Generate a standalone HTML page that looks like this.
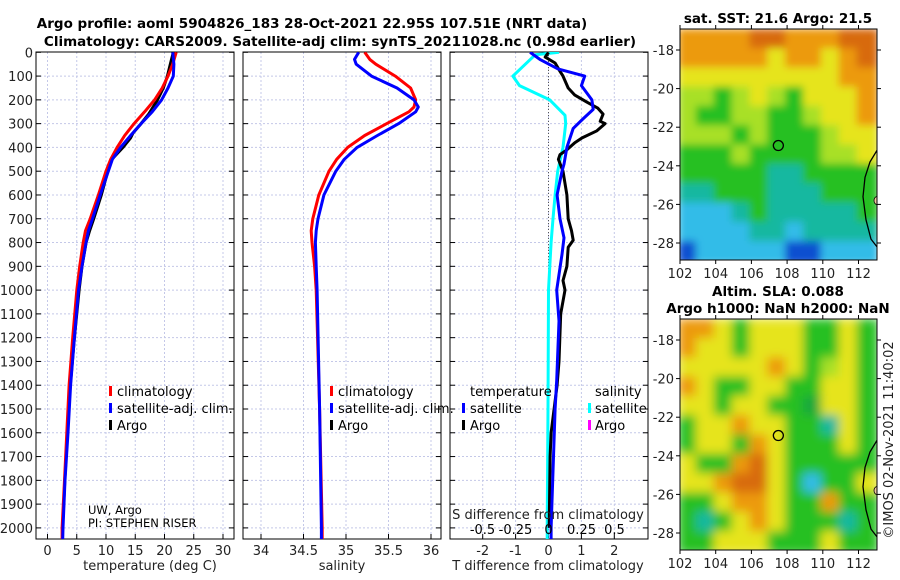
<!DOCTYPE html>
<html><head><meta charset="utf-8">
<style>
html,body{margin:0;padding:0;background:#fff;}
svg{display:block;font-family:"DejaVu Sans","Liberation Sans",sans-serif;}
.t{font-weight:bold;font-size:13.5px;fill:#000;}
.lab{font-size:13px;fill:#222;}
.lg{font-size:13px;fill:#000;}
</style></head>
<body>
<svg id="fig" width="900" height="580" viewBox="0 0 900 580">
<defs>
<clipPath id="cp1"><rect x="36" y="52" width="198" height="487"/></clipPath>
<clipPath id="cp2"><rect x="243" y="52" width="198" height="487"/></clipPath>
<clipPath id="cp3"><rect x="450" y="52" width="198" height="487"/></clipPath>
<clipPath id="cm1"><rect x="680" y="29" width="197" height="231"/></clipPath>
<clipPath id="cm2"><rect x="680" y="319" width="197" height="231"/></clipPath>
<filter id="bl1" x="-5%" y="-5%" width="110%" height="110%"><feGaussianBlur stdDeviation="4"/></filter>
<filter id="bl2" x="-5%" y="-5%" width="110%" height="110%"><feGaussianBlur stdDeviation="5"/></filter>
</defs>
<text class="t" x="312" y="28" text-anchor="middle">Argo profile: aoml 5904826_183 28-Oct-2021 22.95S 107.51E (NRT data)</text>
<text class="t" x="340" y="46" text-anchor="middle">Climatology: CARS2009. Satellite-adj clim: synTS_20211028.nc (0.98d earlier)</text>
<text class="t" x="778" y="23" text-anchor="middle">sat. SST: 21.6 Argo: 21.5</text>
<text class="t" x="778" y="296" text-anchor="middle">Altim. SLA: 0.088</text>
<text class="t" x="778" y="313" text-anchor="middle">Argo h1000: NaN h2000: NaN</text>
<text class="lab" transform="translate(893,440) rotate(-90)" text-anchor="middle">©IMOS 02-Nov-2021 11:40:02</text>
<g id="plots"></g>
<g id="maps"></g>
<g>
<rect x="109" y="386" width="3" height="10" fill="#f00"/><text class="lg" x="117" y="396">climatology</text>
<rect x="109" y="403" width="3" height="10" fill="#00f"/><text class="lg" x="117" y="413">satellite-adj. clim.</text>
<rect x="109" y="420" width="3" height="10" fill="#000"/><text class="lg" x="117" y="430">Argo</text>
</g>
<g>
<rect x="330" y="386" width="3" height="10" fill="#f00"/><text class="lg" x="338" y="396">climatology</text>
<rect x="330" y="403" width="3" height="10" fill="#00f"/><text class="lg" x="338" y="413">satellite-adj. clim.</text>
<rect x="330" y="420" width="3" height="10" fill="#000"/><text class="lg" x="338" y="430">Argo</text>
</g>
<g>
<text class="lg" x="470" y="396">temperature</text>
<rect x="462" y="403" width="3" height="10" fill="#00f"/><text class="lg" x="470" y="413">satellite</text>
<rect x="462" y="420" width="3" height="10" fill="#000"/><text class="lg" x="470" y="430">Argo</text>
<text class="lg" x="595" y="396">salinity</text>
<rect x="588" y="403" width="3" height="10" fill="#0ff"/><text class="lg" x="595" y="413">satellite</text>
<rect x="588" y="420" width="3" height="10" fill="#f0f"/><text class="lg" x="595" y="430">Argo</text>
</g>
<text x="88" y="514" font-size="11.5">UW, Argo</text>
<text x="88" y="527" font-size="11.5">PI: STEPHEN RISER</text>
<text class="lab" x="548" y="519" text-anchor="middle">S difference from climatology</text>
<text class="lab" x="150" y="570" text-anchor="middle">temperature (deg C)</text>
<text class="lab" x="342" y="570" text-anchor="middle">salinity</text>
<text class="lab" x="548" y="570" text-anchor="middle">T difference from climatology</text>
</svg>
<script>
const depthTicks=[0,100,200,300,400,500,600,700,800,900,1000,1100,1200,1300,1400,1500,1600,1700,1800,1900,2000];
const tempTicks=[0,5,10,15,20,25,30];
const salTicks=[34,34.5,35,35.5,36];
const tdiffTicks=[-2,-1,0,1,2];
const sdiffTicks=[-0.5,-0.25,0,0.25,0.5];
const sdiffTickLabels=["-0.5","-0.25","0","0.25","0.5"];

const depthTC=[0,50,100,150,200,250,300,350,400,450,500,600,700,750,800,900,1000,1200,1400,1600,1800,2000,2050];
const tClim=[22.0,21.4,20.6,19.6,18.3,16.6,14.8,13.2,11.9,10.8,10.0,8.7,7.3,6.5,6.1,5.5,5.0,4.3,3.7,3.3,2.9,2.5,2.5];
const tSat=[21.4,21.6,21.5,20.6,19.5,17.9,16.0,14.2,12.5,11.1,10.4,9.0,7.7,7.0,6.6,5.9,5.3,4.6,3.95,3.5,3.0,2.65,2.6];
const depthTA=[0,50,100,150,200,260,300,340,360,400,450,500,600,700,750,800,900,1000,1200,1400,1600,1800,1990];
const tArgo=[21.5,21.0,20.5,19.8,18.8,17.3,16.0,14.6,14.2,12.9,11.0,10.3,9.2,7.9,7.2,6.6,5.9,5.4,4.6,3.9,3.4,2.95,2.6];

const depthS=[0,30,50,100,150,200,230,250,300,350,400,450,500,600,700,750,800,900,1000,1500,2000,2050];
const sClim=[35.22,35.28,35.35,35.58,35.76,35.82,35.80,35.74,35.48,35.22,35.02,34.89,34.80,34.68,34.61,34.59,34.60,34.63,34.65,34.69,34.72,34.72];
const sSat=[35.15,35.1,35.12,35.3,35.6,35.8,35.85,35.82,35.62,35.37,35.13,34.98,34.88,34.74,34.67,34.65,34.64,34.65,34.66,34.69,34.71,34.71];

const depthDS=[0,10,100,140,200,265,300,400,500,600,700,800,1000,1500,2000,2050];
const sDiffSat=[0.08,-0.1,-0.27,-0.22,0.01,0.125,0.13,0.11,0.07,0.05,0.034,0.02,0.0,-0.004,-0.01,-0.01];
const depthDT=[0,30,70,100,140,200,240,280,320,400,470,500,600,700,780,850,1000,1130,1380,1500,2000,2050];
const tDiffSat=[-0.56,-0.26,0.29,1.1,1.0,1.32,1.36,1.05,0.75,0.56,0.47,0.41,0.26,0.35,0.47,0.41,0.25,0.32,0.25,0.2,0.08,0.08];
const depthDA=[0,20,45,80,100,150,180,210,235,260,290,300,330,360,380,410,430,450,500,600,700,750,790,820,900,960,1000,1100,1300,1400,1500,1600,1700,2000];
const tDiffArgo=[0,-0.1,0.2,0.35,0.44,0.6,0.8,1.17,1.5,1.66,1.57,1.72,1.47,1.02,0.8,0.56,0.35,0.3,0.44,0.56,0.6,0.7,0.75,0.6,0.56,0.44,0.5,0.37,0.32,0.26,0.17,0.08,0.05,0.02];

const NS="http://www.w3.org/2000/svg";
const yD=d=>52.3+d*0.2378;
const xT=t=>47.5+t*5.85;
const xS=s=>261+(s-34)*85;
const xTD=v=>548.5+v*32.9;
const xSD=v=>548.5+v*132;
const plots=document.getElementById('plots');
function mk(tag,attrs,parent){const e=document.createElementNS(NS,tag);for(const k in attrs)e.setAttribute(k,attrs[k]);(parent||plots).appendChild(e);return e;}

function panel(x0,w,clip,xTicks,xf,xLabels,name,showY){
  const g=mk('g',{});
  
  
  depthTicks.forEach(d=>{ if(d>0) mk('line',{x1:x0,x2:x0+w,y1:yD(d),y2:yD(d),stroke:'#c4c8e8','stroke-width':1,'stroke-dasharray':'2,2'},g);});
  xTicks.forEach(t=>{mk('line',{x1:xf(t),x2:xf(t),y1:52,y2:539,stroke:'#c4c8e8','stroke-width':1,'stroke-dasharray':'2,2'},g);});
  depthTicks.forEach(d=>{mk('line',{x1:x0,x2:x0+5,y1:yD(d),y2:yD(d),stroke:'#000'},g);mk('line',{x1:x0+w-5,x2:x0+w,y1:yD(d),y2:yD(d),stroke:'#000'},g);
    if(showY){const tx=mk('text',{x:x0-3,y:yD(d)+5,'text-anchor':'end','font-size':13,fill:'#222'},g);tx.textContent=d;}});
  xTicks.forEach((t,i)=>{mk('line',{x1:xf(t),x2:xf(t),y1:534,y2:539,stroke:'#000'},g);
    const tx=mk('text',{x:xf(t),y:555,'text-anchor':'middle','font-size':13,fill:'#222'},g);tx.textContent=xLabels[i];});
  mk('rect',{x:x0,y:52,width:w,height:487,fill:'none',stroke:'#000','stroke-width':1},g);
  return g;
}
function series(g,clip,depths,vals,xf,color,name,w){
  const pts=depths.map((d,i)=>xf(vals[i]).toFixed(1)+','+yD(d).toFixed(1)).join(' ');
  const p=mk('polyline',{points:pts,fill:'none',stroke:color,'stroke-width':w||3,'stroke-linejoin':'round','clip-path':'url(#'+clip+')'},g);
  
  
}
const g1=panel(36,198,'cp1',tempTicks,xT,tempTicks,'temperature-panel',true);
series(g1,'cp1',depthTA,tArgo,xT,'#000','temperature-argo-line');
series(g1,'cp1',depthTC,tClim,xT,'#f00','temperature-climatology-line');
series(g1,'cp1',depthTC,tSat,xT,'#00f','temperature-satellite-line');
const g2=panel(243,198,'cp2',salTicks,xS,salTicks,'salinity-panel',false);
series(g2,'cp2',depthS,sClim,xS,'#f00','salinity-climatology-line');
series(g2,'cp2',depthS,sSat,xS,'#00f','salinity-satellite-line');
const g3=panel(450,198,'cp3',tdiffTicks,xTD,tdiffTicks,'difference-panel',false);
mk('line',{x1:xTD(0),x2:xTD(0),y1:52,y2:539,stroke:'#555','stroke-width':1,'stroke-dasharray':'1,2'},g3);
series(g3,'cp3',depthDS,sDiffSat,xSD,'#0ff','s-diff-satellite-line');
series(g3,'cp3',depthDA,tDiffArgo,xTD,'#000','t-diff-argo-line');
series(g3,'cp3',depthDT,tDiffSat,xTD,'#00f','t-diff-satellite-line');
sdiffTicks.forEach((t,i)=>{const tx=mk('text',{x:xSD(t),y:534,'text-anchor':'middle','font-size':13,fill:'#000'},g3);tx.textContent=sdiffTickLabels[i];});

// maps
const pal={O:'#ec9a10',R:'#d86a10',Y:'#e6e41c',L:'#a8e028',G:'#28c020',D:'#14a83c',T:'#18b8a0',C:'#30bce8',B:'#1050d0'};
const sstGrid=["OOOORROOORR","OOOOOYOOYOR","YYYYYYYYYOO","LLGLYLGYYYO","LGGLLGGLYYO","LLLGLGGGLYY","GGGLGGGGLLY","GGGGGTTGGGG","TTGGGTTTGGG","CCCTGTTTTTG","CCCCTTCTTTT","BCCCCCBBCCC"];
const slaGrid=["OOYGYYYGGYG","OYYGYYYGGYG","YYYYYOYGLYG","OYGGYYGGYYG","YYGYYGGDYYG","GYYOYYGGTYG","GYYGOYGGGYG","YGGORYGGGGG","YYORRYGCGGY","GGYOOYGGOGG","GTGYOYGGGTG","GGYYYGGGYGG"];
const maps=document.getElementById('maps');
function mapPanel(y0,grid,clip,filt,name){
  const g=mk('g',{},maps);
  
  
  const x0=680,W=197,H=231;
  const xL=lon=>680+(lon-102)*17.85, yL=lat=>y0+21+(-18-lat)*19.3;
  const inner=mk('g',{'clip-path':'url(#'+clip+')'},g);
  const inner2=mk('g',{filter:'url(#'+filt+')'},inner);
  grid.forEach((row,r)=>{[...row].forEach((c,k)=>{
    mk('rect',{x:xL(102+k)-2,y:yL(-17-r)-2,width:17.85+4,height:19.3+4,fill:pal[c]},inner2);});});
  mk('path',{d:`M877 ${yL(-23.2)} L870 ${yL(-23.8)} L865 ${yL(-24.6)} L863 ${yL(-25.6)} L866 ${yL(-26.8)} L871 ${yL(-27.8)} L877 ${yL(-28.2)}`,fill:'none',stroke:'#000','stroke-width':1.3},inner);
  mk('ellipse',{cx:877,cy:yL(-25.8),rx:3,ry:4,fill:'#f0c8a0',stroke:'#000','stroke-width':0.8},inner);
  const ci=mk('circle',{cx:xL(107.51),cy:yL(-22.95),r:5,fill:'none',stroke:'#000','stroke-width':1.3},g);
  
  
  mk('rect',{x:x0,y:y0,width:W,height:H,fill:'none',stroke:'#000'},g);
  [-18,-20,-22,-24,-26,-28].forEach(l=>{const y=yL(l);
    mk('line',{x1:x0-4,x2:x0,y1:y,y2:y,stroke:'#000'},g);mk('line',{x1:x0+W,x2:x0+W+4,y1:y,y2:y,stroke:'#000'},g);
    const t=mk('text',{x:x0-6,y:y+5,'text-anchor':'end','font-size':13,fill:'#222'},g);t.textContent=l;});
  [102,104,106,108,110,112].forEach(l=>{const x=xL(l);
    mk('line',{x1:x,x2:x,y1:y0+H,y2:y0+H+4,stroke:'#000'},g);mk('line',{x1:x,x2:x,y1:y0-4,y2:y0,stroke:'#000'},g);
    const t=mk('text',{x:x,y:y0+H+18,'text-anchor':'middle','font-size':13,fill:'#222'},g);t.textContent=l;});
}
mapPanel(29,sstGrid,'cm1','bl1','sst-map');
mapPanel(319,slaGrid,'cm2','bl2','sla-map');
</script>
</body></html>
